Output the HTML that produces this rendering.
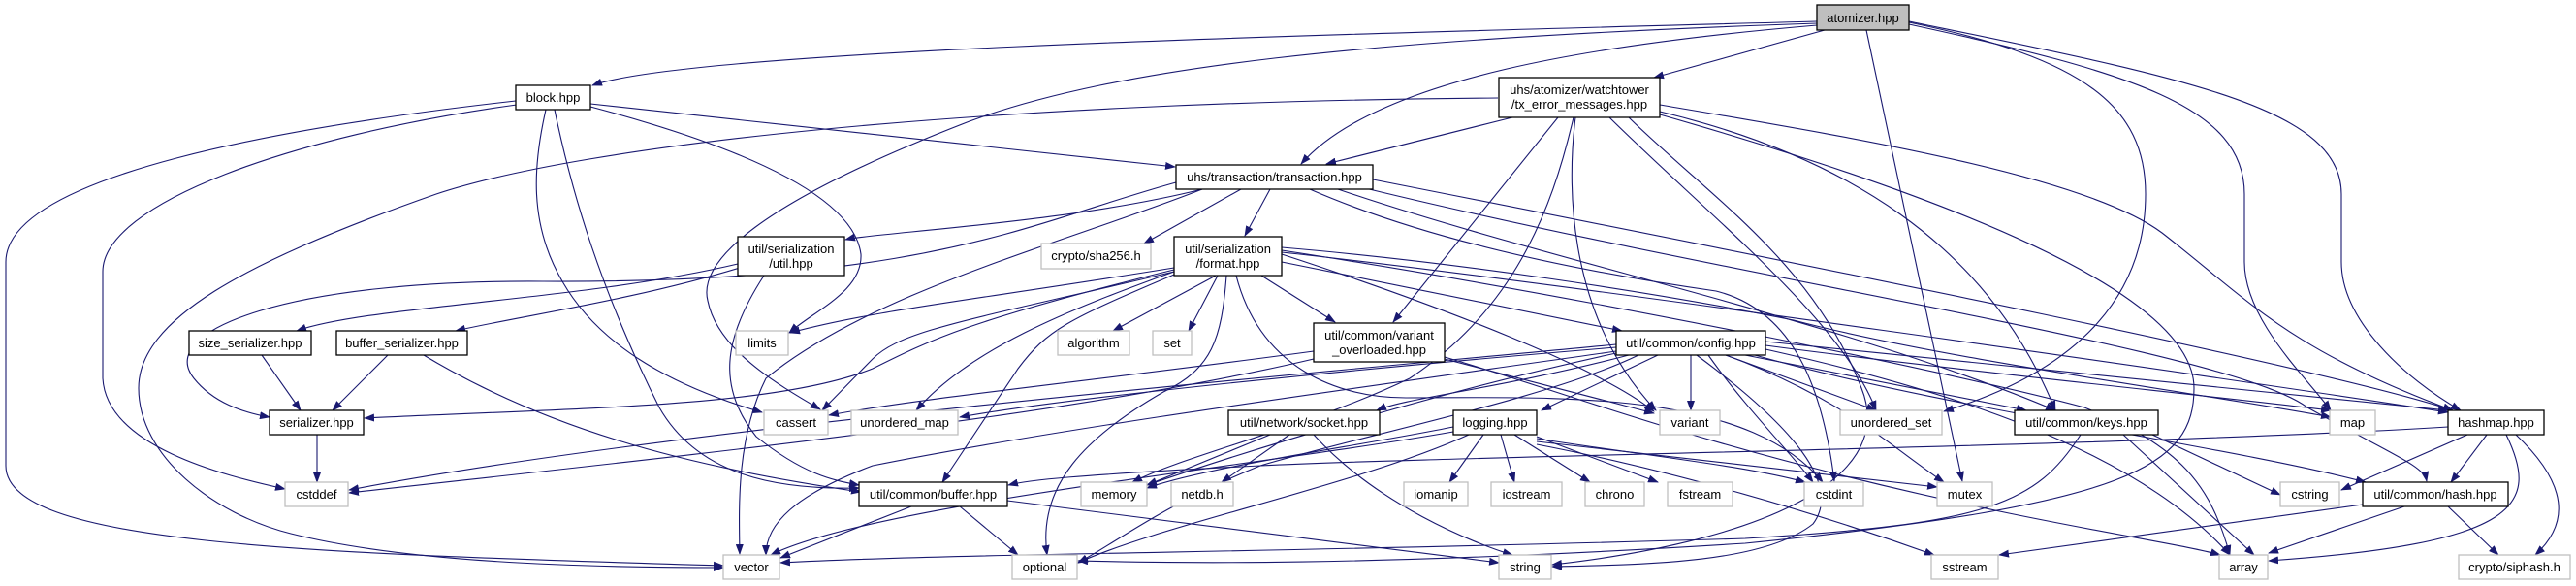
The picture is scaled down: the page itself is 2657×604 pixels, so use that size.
<!DOCTYPE html>
<html><head><meta charset="utf-8"><style>
html,body{margin:0;padding:0;background:#fff;}
svg{display:block;}
text{font-family:"Liberation Sans",sans-serif;font-size:13px;fill:#000;text-anchor:middle;}
.e{fill:none;stroke:#191970;stroke-width:1.1;marker-end:url(#a);}
.n{fill:#fff;stroke:#000;stroke-width:1.3;}
.s{fill:#fff;stroke:#bfbfbf;stroke-width:1.3;}
</style></head><body>
<svg width="2657" height="604" viewBox="0 0 2657 604" xmlns="http://www.w3.org/2000/svg">
<defs><marker id="a" markerWidth="11" markerHeight="8" refX="10" refY="4" orient="auto" markerUnits="userSpaceOnUse"><path d="M0,0 L11,4 L0,8 z" fill="#191970"/></marker></defs>
<g>
<!-- atomizer -->
<path class="e" d="M1874,22 C1400,35 720,50 611,88"/>
<path class="e" d="M1882,31 L1706,80"/>
<path class="e" d="M1874,26 C1650,45 1420,80 1342,169"/>
<path class="e" d="M1874,24 C1400,40 1150,70 1000,125 C780,210 720,270 730,310 C740,360 800,395 846,422"/>
<path class="e" d="M1969,23 C2150,60 2213,110 2213,200 C2213,300 2150,380 2005,424"/>
<path class="e" d="M1925,31 L2024,496"/>
<path class="e" d="M1969,25 C2200,75 2315,110 2315,200 L2315,270 C2315,330 2380,390 2404,423"/>
<path class="e" d="M1969,22 C2250,80 2415,110 2415,200 L2415,270 C2415,330 2480,390 2538,423"/>
<!-- block -->
<path class="e" d="M609,107 L1212,172"/>
<path class="e" d="M532,104 C300,130 6,180 6,270 L6,480 C6,560 300,570 746,583"/>
<path class="e" d="M533,108 C300,140 106,210 106,280 L106,390 C110,460 230,490 294,504"/>
<path class="e" d="M563,113 C550,170 545,230 580,290 C620,360 700,400 786,425"/>
<path class="e" d="M572,113 C590,200 620,300 680,420 C720,490 800,505 886,503"/>
<path class="e" d="M609,110 C760,150 880,200 888,262 C890,300 840,320 814,343"/>
<!-- tx_error -->
<path class="e" d="M1560,121 L1368,169"/>
<path class="e" d="M1607,121 L1437,332"/>
<path class="e" d="M1623,121 C1600,220 1560,320 1454,390 C1350,440 1220,470 1168,497"/>
<path class="e" d="M1625,121 C1615,200 1620,330 1708,423"/>
<path class="e" d="M1545,101 C1000,105 600,150 450,200 C250,270 143,330 143,400 C143,470 220,530 300,550 C420,580 600,585 746,585"/>
<path class="e" d="M1660,121 C1760,220 1900,330 1935,423"/>
<path class="e" d="M1712,115 C1900,160 2050,250 2120,423"/>
<path class="e" d="M1712,108 C1900,140 2150,180 2230,240 C2320,310 2360,360 2530,423"/>
<path class="e" d="M1712,118 C2000,200 2263,300 2263,400 C2263,480 2200,520 1800,560 C1400,585 1200,580 1112,578"/>
<path class="e" d="M1680,121 C1760,200 1870,270 1920,400 C1960,500 1800,560 1601,582"/>
<!-- transaction -->
<path class="e" d="M1240,195 C1100,230 900,240 872,247"/>
<path class="e" d="M1280,195 L1180,251"/>
<path class="e" d="M1310,195 L1284,243"/>
<path class="e" d="M1213,188 C1060,230 960,292 560,290 C300,288 160,340 200,390 C220,415 250,425 278,430"/>
<path class="e" d="M1240,195 C1100,250 900,300 790,390 C760,450 762,520 763,571"/>
<path class="e" d="M1351,195 C1500,260 1700,290 1770,300 C1850,320 1880,400 1892,496"/>
<path class="e" d="M1380,195 C1600,270 1900,330 2120,423"/>
<path class="e" d="M1400,192 C1800,290 2300,360 2380,420 C2470,470 2500,480 2503,496"/>
<path class="e" d="M1416,185 C1900,280 2400,380 2530,423"/>
<!-- util.hpp -->
<path class="e" d="M761,272 C600,310 380,315 306,341"/>
<path class="e" d="M763,276 C650,310 540,325 470,341"/>
<path class="e" d="M788,284 C745,350 740,400 780,450 C830,490 860,495 886,500"/>
<path class="e" d="M270,366 L310,423"/>
<path class="e" d="M400,366 L343,423"/>
<path class="e" d="M437,366 C560,440 700,480 888,507"/>
<path class="e" d="M327,448 L327,497"/>
<!-- format -->
<path class="e" d="M1254,284 L1148,341"/>
<path class="e" d="M1256,284 L1226,341"/>
<path class="e" d="M1301,284 L1377,332"/>
<path class="e" d="M1322,270 L1673,341"/>
<path class="e" d="M1322,262 C1500,320 1650,380 1706,424"/>
<path class="e" d="M1211,280 C1100,320 1000,360 945,423"/>
<path class="e" d="M1211,280 C1000,330 930,340 900,370 L848,423"/>
<path class="e" d="M1211,276 C1000,310 900,320 815,343"/>
<path class="e" d="M1211,278 C1000,330 960,350 900,380 C800,420 600,420 376,431"/>
<path class="e" d="M1211,283 C1100,330 1080,340 1050,380 L972,497"/>
<path class="e" d="M1265,284 C1260,350 1250,380 1200,404 C1120,450 1070,500 1080,572"/>
<path class="e" d="M1275,284 C1300,380 1380,410 1450,410 C1600,410 1800,400 1880,497"/>
<path class="e" d="M1322,255 C1500,270 1700,300 1850,330 C2000,370 2300,410 2404,430"/>
<path class="e" d="M1322,260 C1600,290 2300,390 2525,425"/>
<path class="e" d="M1322,258 C1600,300 2000,380 2150,420 C2250,460 2280,500 2300,572"/>
<!-- variant_overloaded -->
<path class="e" d="M1355,362 C1150,390 950,410 855,428"/>
<path class="e" d="M1355,370 C1100,430 700,470 360,508"/>
<path class="e" d="M1490,370 L1706,426"/>
<path class="e" d="M1490,368 C1600,400 1700,440 1900,490 C2100,540 2250,560 2290,572"/>
<!-- config -->
<path class="e" d="M1667,358 C1400,380 1100,410 990,430"/>
<path class="e" d="M1680,366 C1550,400 1450,410 1420,423"/>
<path class="e" d="M1710,366 L1590,423"/>
<path class="e" d="M1744,366 L1744,423"/>
<path class="e" d="M1780,366 L1935,423"/>
<path class="e" d="M1800,366 L2090,423"/>
<path class="e" d="M1821,356 C2000,380 2300,410 2404,423"/>
<path class="e" d="M1821,352 C2100,380 2400,410 2525,423"/>
<path class="e" d="M1810,366 C2000,420 2300,460 2440,497"/>
<path class="e" d="M1762,366 C1800,420 1850,470 1870,497"/>
<path class="e" d="M1750,366 C1850,440 1900,500 1870,540 C1820,580 1700,582 1601,584"/>
<path class="e" d="M1690,366 C1600,410 1400,450 1300,480 C1200,520 1150,560 1112,580"/>
<path class="e" d="M1667,362 C1400,400 1100,440 900,480 C820,510 790,540 790,572"/>
<path class="e" d="M1667,364 C1500,400 1300,460 1183,500"/>
<path class="e" d="M1780,366 C1900,410 1950,460 2005,497"/>
<path class="e" d="M1821,360 C2000,400 2200,460 2300,572"/>
<path class="e" d="M1667,355 C1300,390 700,440 360,505"/>
<!-- socket -->
<path class="e" d="M1310,448 L1183,500"/>
<path class="e" d="M1330,448 L1260,497"/>
<path class="e" d="M1355,448 C1420,520 1520,560 1560,572"/>
<!-- logging -->
<path class="e" d="M1499,440 C1400,460 1250,480 1183,503"/>
<path class="e" d="M1530,448 L1495,497"/>
<path class="e" d="M1548,448 L1562,497"/>
<path class="e" d="M1562,448 L1640,497"/>
<path class="e" d="M1585,450 L1710,497"/>
<path class="e" d="M1585,452 C1700,470 1800,480 1862,497"/>
<path class="e" d="M1585,455 C1800,480 1900,490 1998,502"/>
<path class="e" d="M1585,458 C1700,480 1850,520 1995,572"/>
<path class="e" d="M1515,448 C1400,500 1200,540 1112,580"/>
<path class="e" d="M1499,445 C1300,480 900,520 795,572"/>
<!-- keys -->
<path class="e" d="M2146,448 C2100,520 2050,540 1800,555 C1300,570 1000,570 805,580"/>
<path class="e" d="M2190,448 L2325,572"/>
<path class="e" d="M2220,448 L2352,510"/>
<!-- hashmap -->
<path class="e" d="M2525,440 C2200,460 1500,470 1300,480 C1100,490 1060,495 1040,500"/>
<path class="e" d="M2545,448 L2415,505"/>
<path class="e" d="M2565,448 L2528,497"/>
<path class="e" d="M2585,448 C2620,520 2600,560 2340,578"/>
<path class="e" d="M2595,448 C2650,500 2650,540 2615,572"/>
<!-- hash -->
<path class="e" d="M2437,520 L2062,572"/>
<path class="e" d="M2480,522 L2340,570"/>
<path class="e" d="M2525,522 L2577,572"/>
<!-- buffer -->
<path class="e" d="M940,522 L805,575"/>
<path class="e" d="M990,522 L1050,572"/>
<path class="e" d="M1039,516 L1546,580"/>
</g>
<g>
<rect x="1874" y="5" width="95" height="26" fill="#bfbfbf" stroke="#000" stroke-width="1.3"/><text x="1921.5" y="23">atomizer.hpp</text>
<rect class="n" x="532" y="88" width="77" height="25"/><text x="570.5" y="105">block.hpp</text>
<rect class="n" x="1546" y="80" width="166" height="41"/><text x="1629" y="97">uhs/atomizer/watchtower</text><text x="1629" y="112">/tx_error_messages.hpp</text>
<rect class="n" x="1213" y="170" width="203" height="25"/><text x="1314.5" y="187">uhs/transaction/transaction.hpp</text>
<rect class="n" x="761" y="244" width="110" height="40"/><text x="816" y="261">util/serialization</text><text x="816" y="276">/util.hpp</text>
<rect class="s" x="1074" y="251" width="113" height="26"/><text x="1130.5" y="268">crypto/sha256.h</text>
<rect class="n" x="1211" y="244" width="111" height="40"/><text x="1266.5" y="261">util/serialization</text><text x="1266.5" y="276">/format.hpp</text>
<rect class="n" x="195" y="341" width="126" height="25"/><text x="258" y="358">size_serializer.hpp</text>
<rect class="n" x="347" y="341" width="135" height="25"/><text x="414.5" y="358">buffer_serializer.hpp</text>
<rect class="s" x="759" y="341" width="54" height="25"/><text x="786" y="358">limits</text>
<rect class="s" x="1091" y="341" width="74" height="25"/><text x="1128" y="358">algorithm</text>
<rect class="s" x="1189" y="341" width="40" height="25"/><text x="1209" y="358">set</text>
<rect class="n" x="1355" y="333" width="135" height="40"/><text x="1422.5" y="350">util/common/variant</text><text x="1422.5" y="365">_overloaded.hpp</text>
<rect class="n" x="1667" y="341" width="154" height="25"/><text x="1744" y="358">util/common/config.hpp</text>
<rect class="n" x="278" y="423" width="97" height="25"/><text x="326.5" y="440">serializer.hpp</text>
<rect class="s" x="788" y="423" width="66" height="25"/><text x="821" y="440">cassert</text>
<rect class="s" x="878" y="423" width="110" height="25"/><text x="933" y="440">unordered_map</text>
<rect class="n" x="1267" y="423" width="156" height="25"/><text x="1345" y="440">util/network/socket.hpp</text>
<rect class="n" x="1499" y="423" width="86" height="25"/><text x="1542" y="440">logging.hpp</text>
<rect class="s" x="1712" y="423" width="62" height="25"/><text x="1743" y="440">variant</text>
<rect class="s" x="1898" y="423" width="105" height="25"/><text x="1950.5" y="440">unordered_set</text>
<rect class="n" x="2078" y="423" width="148" height="25"/><text x="2152" y="440">util/common/keys.hpp</text>
<rect class="s" x="2403" y="423" width="47" height="25"/><text x="2426.5" y="440">map</text>
<rect class="n" x="2525" y="423" width="99" height="25"/><text x="2574.5" y="440">hashmap.hpp</text>
<rect class="s" x="294" y="497" width="65" height="25"/><text x="326.5" y="514">cstddef</text>
<rect class="n" x="886" y="497" width="153" height="25"/><text x="962.5" y="514">util/common/buffer.hpp</text>
<rect class="s" x="1115" y="497" width="68" height="25"/><text x="1149" y="514">memory</text>
<rect class="s" x="1208" y="497" width="64" height="25"/><text x="1240" y="514">netdb.h</text>
<rect class="s" x="1448" y="497" width="66" height="25"/><text x="1481" y="514">iomanip</text>
<rect class="s" x="1538" y="497" width="73" height="25"/><text x="1574.5" y="514">iostream</text>
<rect class="s" x="1635" y="497" width="61" height="25"/><text x="1665.5" y="514">chrono</text>
<rect class="s" x="1720" y="497" width="67" height="25"/><text x="1753.5" y="514">fstream</text>
<rect class="s" x="1861" y="497" width="61" height="25"/><text x="1891.5" y="514">cstdint</text>
<rect class="s" x="1998" y="497" width="57" height="25"/><text x="2026.5" y="514">mutex</text>
<rect class="s" x="2352" y="497" width="61" height="25"/><text x="2382.5" y="514">cstring</text>
<rect class="n" x="2437" y="497" width="150" height="25"/><text x="2512" y="514">util/common/hash.hpp</text>
<rect class="s" x="746" y="572" width="58" height="25"/><text x="775" y="589">vector</text>
<rect class="s" x="1044" y="572" width="67" height="25"/><text x="1077.5" y="589">optional</text>
<rect class="s" x="1546" y="572" width="54" height="25"/><text x="1573" y="589">string</text>
<rect class="s" x="1992" y="572" width="69" height="25"/><text x="2026.5" y="589">sstream</text>
<rect class="s" x="2289" y="572" width="50" height="25"/><text x="2314" y="589">array</text>
<rect class="s" x="2536" y="572" width="115" height="25"/><text x="2593.5" y="589">crypto/siphash.h</text>
</g>
</svg>
</body></html>
